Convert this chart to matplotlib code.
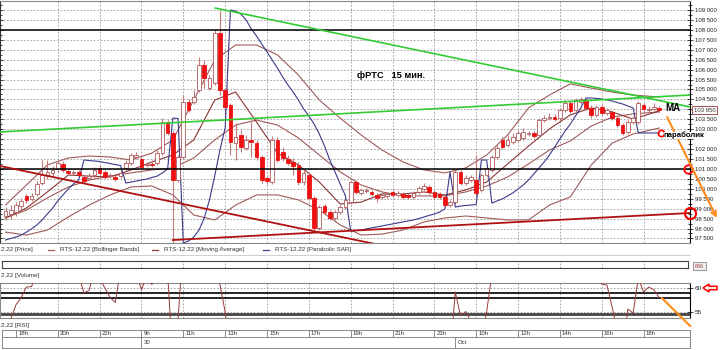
import matplotlib
matplotlib.use("Agg")
import matplotlib.pyplot as plt
from matplotlib.lines import Line2D
from matplotlib.patches import Polygon, Rectangle
from matplotlib.ticker import MultipleLocator, FuncFormatter

plt.rcParams["font.family"] = ["Liberation Sans", "DejaVu Sans"]

# ---- data: RTS-12.22, 15 min bars, 29 Sep 17:30 .. 3 Oct 18:45 ----
opens = [
    98630, 98730, 98830, 99130, 99640, 99490, 99740, 100290, 100640, 100800,
    101000, 101250, 100900, 100800, 100850, 100590, 100540, 100690, 101050, 100850,
    100640, 100590, 100640, 101050, 101300, 101600, 101500, 101200, 101250, 101300,
    101800, 103360, 102810, 100440, 101600, 104370, 104370, 104970, 106230, 105070,
    105330, 107840, 104970, 104220, 102310, 102710, 102050, 102460, 102310, 101600,
    100540, 100340, 102460, 101850, 101500, 101350, 101200, 100340, 100690, 99540,
    98030, 99130, 98830, 98530, 98830, 99080, 99330, 100340, 99790, 99890,
    99840, 99690, 99590, 99640, 99840, 99690, 99740, 99690, 99590, 99840,
    99990, 100090, 99840, 99740, 99590, 99180, 99330, 100850, 100290, 100440,
    100440, 99940, 100690, 100950, 101600, 102460, 102200, 102360, 102460, 102560,
    102760, 102810, 102710, 103460, 103560, 103610, 103560, 103970, 104320, 103970,
    104370, 104420, 104070, 103720, 104120, 103820, 103870, 103560, 103210, 102860,
    103360, 103360, 104220, 103970, 104020, 104070]
closes = [
    98880, 98930, 99180, 99390, 99440, 99640, 100240, 100690, 100850, 100950,
    101300, 100950, 100800, 100850, 100690, 100390, 100640, 100950, 100800, 100590,
    100690, 100490, 100800, 101300, 101700, 101700, 101100, 101250, 101200, 101800,
    103360, 102810, 100440, 101600, 104370, 103970, 104620, 106230, 105580, 105580,
    107840, 104970, 104120, 102360, 102610, 102100, 102460, 102360, 101600, 100440,
    100390, 102460, 101450, 101550, 101300, 101150, 100340, 100800, 99540, 98030,
    99080, 98830, 98530, 98830, 99080, 99440, 100340, 99840, 99940, 99940,
    99740, 99540, 99690, 99740, 99690, 99790, 99590, 99590, 99790, 100040,
    100140, 99840, 99590, 99590, 99180, 99330, 100850, 100290, 100540, 100590,
    99790, 100690, 101050, 101600, 102050, 102100, 102460, 102610, 102810, 102860,
    102810, 102660, 103460, 103560, 103610, 103510, 103970, 104320, 103920, 104470,
    104520, 104070, 103720, 104120, 103820, 103970, 103560, 103210, 102810, 103360,
    103560, 104320, 104020, 104020, 104120, 103950]
highs = [
    99080, 99180, 99330, 99540, 99740, 99790, 100390, 101450, 101450, 101150,
    101450, 101400, 101050, 100950, 100950, 100690, 100800, 101100, 101200, 100950,
    100800, 100690, 100950, 101450, 101800, 101850, 101600, 101350, 101450, 101950,
    103560, 103460, 102960, 101700, 104720, 104520, 104970, 106640, 106480, 105730,
    107990, 109000, 105070, 104320, 103310, 102960, 102710, 103460, 102460, 101700,
    100690, 102660, 102610, 102100, 101700, 101550, 101350, 100950, 100850, 99640,
    99180, 99230, 98930, 98930, 99180, 99540, 100440, 100440, 100040, 100040,
    99940, 99790, 99790, 99840, 99940, 99890, 99840, 99790, 99890, 100140,
    100290, 100190, 99940, 99840, 99690, 99440, 100950, 100950, 100690, 100690,
    101700, 100800, 101200, 101700, 102200, 102610, 102710, 102810, 102960, 103060,
    102910, 102910, 103560, 103720, 103820, 103770, 104070, 104470, 104420, 104570,
    104620, 104570, 104220, 104220, 104270, 104070, 103970, 103660, 103310, 103460,
    103660, 104420, 104320, 104170, 104320, 104170]
lows = [
    98430, 98480, 98630, 98980, 99290, 99390, 99640, 100190, 100490, 100640,
    100850, 100850, 100690, 100690, 100590, 100290, 100440, 100540, 100690, 100490,
    100540, 100390, 100540, 100950, 101200, 101500, 101000, 101100, 101100, 101200,
    101700, 102710, 97270, 100340, 101500, 103870, 104270, 104870, 105070, 104970,
    105230, 104720, 103460, 101700, 101450, 101850, 101950, 101600, 101450, 100290,
    100240, 100240, 101350, 101400, 101200, 100690, 100190, 100190, 99440, 97880,
    97930, 98730, 98430, 98430, 98730, 98980, 99230, 99740, 99690, 99790,
    99640, 99330, 99490, 99540, 99590, 99590, 99490, 99490, 99490, 99740,
    99890, 99740, 99490, 99490, 99080, 99080, 99230, 100190, 100190, 100340,
    99590, 99840, 100590, 100850, 101500, 102000, 102100, 102260, 102360, 102460,
    102660, 102560, 102610, 103360, 103460, 103410, 103460, 103870, 103820, 103870,
    104270, 103970, 103560, 103610, 103660, 103720, 103460, 103110, 102710, 102760,
    103260, 103260, 103920, 103870, 103920, 103870]

# indicator readings (every 4th bar)
ind_idx = [0, 4, 8, 12, 16, 20, 24, 28, 32, 36, 40, 44, 48, 52, 56, 60,
           64, 68, 72, 76, 80, 84, 88, 92, 96, 100, 104, 108, 112, 116, 120, 125]
bb_upper = [99180, 100190, 101200, 101550, 101650, 101600, 101450, 101800, 102460, 104470,
            106480, 107240, 107240, 106740, 105730, 104470, 103560, 102710, 101950, 101350,
            100950, 100800, 101050, 101700, 102710, 104070, 104720, 105280, 105070, 104870,
            104720, 104620]
bb_middle = [98530, 98930, 99540, 100090, 100440, 100640, 100800, 100950, 101050, 101550,
             102460, 103210, 103460, 103210, 102560, 101700, 100850, 100190, 99840, 99640,
             99640, 99640, 99840, 100140, 100590, 101250, 101950, 102410, 103160, 103610,
             103770, 103870]
bb_lower = [97820, 97670, 97920, 98580, 99180, 99690, 100090, 100140, 99690, 98680,
            98430, 99180, 99690, 99690, 99440, 98930, 98180, 97670, 97720, 97920,
            98330, 98530, 98630, 98530, 98430, 98430, 99180, 99590, 101200, 102300,
            102760, 103060]
ma_vals = [98530, 99030, 99840, 100690, 100640, 100590, 100950, 101350, 101700, 102460,
           104470, 104870, 103360, 101800, 101200, 100340, 99230, 99330, 99740, 99740,
           99840, 99690, 99940, 100340, 101250, 102150, 103010, 103720, 104070, 103870,
           103510, 103920]
sar = [
    97420, 97500, 97570, 97670, 97820, 97980, 98180, 98430, 98730, 99030,
    99390, 99690, 99990, 100240, 100440, 101450, 101420, 101400, 101370, 101320,
    101270, 101220, 101170, 100290, 100340, 100390, 100440, 100490, 100570, 100640,
    100800, 101000, 103560, 103540, 97270, 97370, 97570, 97920, 98530, 99440,
    100640, 101950, 103060, 109000, 108950, 108800, 108500, 108050, 107690, 107290,
    106890, 106480, 106080, 105630, 105230, 104870, 104470, 104020, 103670, 103260,
    102760, 102150, 101450, 100850, 100240, 99640, 97870, 97900, 97920, 97980,
    98030, 98080, 98130, 98180, 98230, 98280, 98330, 98380, 98430, 98500,
    98580, 98660, 98730, 98830, 98980, 100850, 99080, 99130, 99160, 99180,
    99210, 101450, 101450, 99280, 99390, 99490, 99640, 99790, 99990, 100190,
    100440, 100740, 101050, 101350, 101700, 102100, 102510, 102910, 103260, 103670,
    104070, 104570, 104570, 104550, 104520, 104470, 104420, 104340, 104270, 104170,
    104070, 102810, 102810, 102810, 102810, 102810]
rsi = [
    48, 53.5, 56.5, 58, 60.2, 60.3, 64, 67, 67, 66,
    68, 64, 63, 63, 62.5, 59, 59.5, 64, 62, 60,
    58, 57, 64, 67, 70, 63, 59.6, 62.5, 60.7, 65,
    75, 63, 45, 53.5, 70, 65, 67, 72, 68, 69,
    68, 60.7, 55, 47, 49, 46, 49, 48, 44, 38,
    37, 48, 42, 43, 42, 41, 37, 41, 35, 28,
    38, 36, 33, 37, 40, 43, 50, 47, 48, 48,
    47, 46, 47, 48, 47, 48, 47, 47, 48, 50,
    51, 49, 47, 47, 44, 46, 59.2, 54.2, 55.1, 53,
    48, 50, 55, 63, 67, 64, 66, 67, 69, 70,
    69, 67, 73, 74, 74, 73, 75, 77, 71, 74,
    74, 66, 62, 65, 60.8, 60.6, 56, 51, 47, 55.6,
    54.8, 62, 59.2, 60.2, 59.6, 58]
rsi_levels = [59.0, 57.85]
rsi_floor = 54.6

tick_idx = [2, 10, 18, 26, 34, 42, 50, 58, 66, 74, 82, 90, 98, 106, 114, 122]
tick_labels = ["18h", "20h", "22h", "9h", "11h", "13h", "15h", "17h",
               "19h", "21h", "23h", "10h", "12h", "14h", "16h", "18h"]
day_idx = [26, 86]
day_labels = ["30", "Oct"]

# hand-drawn lines (bar index, price)
green_top_x, green_top_y = [40.1, 130.9], [109100, 104120]
green_low_x, green_low_y = [-1.1, 130.9], [102860, 104720]
red_top_x, red_top_y = [-1.1, 71.6], [101150, 97170]
red_low_x, red_low_y = [32.0, 130.9], [97420, 98780]
levels = [108000, 101000]
forecast_x, forecast_y = [126.5, 136.0], [103610, 98530]
last_price = 103950
hidden_label = 102500   # covered by the "параболик" note

# ---- layout ----
W, H = 720, 350
X0, DX = 5.5, 5.23

def rect(x0, y0, x1, y1):
    return [x0 / W, 1 - y1 / H, (x1 - x0) / W, (y1 - y0) / H]

def xlim_px(x0, x1):
    return ((x0 - X0) / DX, (x1 - X0) / DX)

def fx(x):
    return x / W

def fy(y):
    return 1 - y / H

def price_fmt(v, pos):
    if v == hidden_label:
        return ""
    return f"{v:,.0f}".replace(",", " ")

WICK = "#c47c7c"
BULL_EDGE = "#b05a5a"
BEAR = "#ee1111"
BB = "#a05a5a"
MA = "#8a3434"
SARC = "#3a3a8c"
GREEN = "#33cc33"
REDT = "#b01010"
ORANGE = "#ff8c1a"
GRID = "#9a9a9a"
TXT = "#333333"
dash = (0, (2, 2))

fig = plt.figure(figsize=(W / 100, H / 100), dpi=100)
fig.patch.set_facecolor("white")

# ---- price panel ----
ax = fig.add_axes(rect(0, 1, 690, 243))
ax.set_xlim(*xlim_px(0, 690))
ax.set_ylim(97270, 109455)
for t in tick_idx[1:]:
    ax.axvline(t, color=GRID, lw=0.6, ls=dash, zorder=0.5)
ax.set_yticks(range(97500, 109001, 500))
ax.yaxis.set_minor_locator(MultipleLocator(250))
ax.grid(axis="y", which="major", color=GRID, lw=0.6, ls=dash, zorder=0.5)
ax.set_xticks([])
ax.yaxis.tick_right()
ax.yaxis.set_major_formatter(FuncFormatter(price_fmt))
ax.tick_params(axis="y", which="both", left=True, right=True, labelleft=False,
               labelright=True, direction="inout", width=0.6, colors="#222222",
               labelsize=4.3, pad=1.5)
ax.tick_params(axis="y", which="major", length=4)
ax.tick_params(axis="y", which="minor", length=2.5)
for s in ("top", "bottom"):
    ax.spines[s].set_color("#888888")
ax.spines["left"].set_color("#333333")
ax.spines["right"].set_color("#000000")

n = len(opens)
xs = list(range(n))
ax.vlines(xs, lows, highs, color=WICK, lw=0.8, zorder=2)
bull = [i for i in xs if closes[i] >= opens[i]]
bear = [i for i in xs if closes[i] < opens[i]]
ax.bar(bull, [max(closes[i] - opens[i], 30) for i in bull],
       bottom=[opens[i] for i in bull], width=0.7, facecolor="white",
       edgecolor=BULL_EDGE, lw=0.6, zorder=3)
ax.bar(bear, [max(opens[i] - closes[i], 30) for i in bear],
       bottom=[closes[i] for i in bear], width=0.7, facecolor=BEAR,
       edgecolor=BEAR, lw=0.6, zorder=3)

ax.plot(ind_idx, bb_upper, color=BB, lw=0.8, zorder=1.8)
ax.plot(ind_idx, bb_middle, color=BB, lw=0.8, zorder=1.8)
ax.plot(ind_idx, bb_lower, color=BB, lw=0.8, zorder=1.8)
ax.plot(ind_idx, ma_vals, color=MA, lw=0.8, zorder=1.9)
ax.plot(xs, sar, color=SARC, lw=0.8, zorder=2.2)

for lv in levels:
    ax.axhline(lv, color="black", lw=1.1, zorder=4)
ax.plot(green_top_x, green_top_y, color=GREEN, lw=1.2, zorder=4)
ax.plot(green_low_x, green_low_y, color=GREEN, lw=1.2, zorder=4)
ax.plot(red_top_x, red_top_y, color=REDT, lw=1.3, zorder=4)
ax.plot(red_low_x, red_low_y, color=REDT, lw=1.3, zorder=4)

ax.plot([130.5], [levels[1]], "o", ms=6, mfc="none", mec="red", mew=1.3, clip_on=False, zorder=6)
ax.plot([red_low_x[1]], [red_low_y[1]], "o", ms=8, mfc="none", mec="red", mew=1.5, clip_on=False, zorder=6)
ax.plot([125.3], [sar[-1]], "o", ms=4.5, mfc="none", mec="red", mew=1.2, clip_on=False, zorder=6)
ax.annotate("", xy=(forecast_x[1], forecast_y[1]), xytext=(forecast_x[0], forecast_y[0]),
            arrowprops=dict(arrowstyle="->", color=ORANGE, lw=1.5, shrinkA=0, shrinkB=0,
                            mutation_scale=9),
            annotation_clip=False, zorder=7)
ax.text(126.1, 104070, "MA", fontsize=7, fontweight="bold", va="center", ha="left",
        color="black", zorder=8, clip_on=False)
ax.text(125.9, sar[-1] - 120, "параболик", fontsize=5.6, fontweight="bold", va="center",
        ha="left", color="black", zorder=8, clip_on=False,
        bbox=dict(boxstyle="square,pad=0.0", fc="white", ec="none"))
ax.text(1.0055, last_price, f"{last_price:,}".replace(",", " "), transform=ax.get_yaxis_transform(),
        fontsize=4.3, va="center", ha="left", color="#333333", zorder=9, clip_on=False,
        bbox=dict(boxstyle="square,pad=0.25", fc="white", ec="#a05050", lw=0.7))
fig.text(fx(357), fy(75), "фРТС   15 мин.", fontsize=6.7, fontweight="bold",
         va="center", ha="left", color="black")

# legend row
fig.text(fx(1), fy(250), "2.22 [Price]", fontsize=4.5, color=TXT, va="center")
for x0, txt, col in [(48, "RTS-12.22 [Bollinger Bands]", BB),
                     (152, "RTS-12.22 [Moving Average]", MA),
                     (263, "RTS-12.22 [Parabolic SAR]", SARC)]:
    fig.add_artist(Line2D([fx(x0), fx(x0 + 6)], [fy(250), fy(250)], color=col, lw=0.9))
    fig.text(fx(x0 + 12), fy(250), txt, fontsize=4.5, color=TXT, va="center")
fig.add_artist(Line2D([0, fx(690)], [fy(255), fy(255)], color="#c8c8c8", lw=0.6))

# ---- volume strip ----
vax = fig.add_axes(rect(2, 261, 688, 268))
vax.set_xlim(*xlim_px(2, 688))
vax.set_ylim(0, 1)
vax.set_xticks([])
vax.set_yticks([])
for t in tick_idx[1:]:
    vax.axvline(t, color=GRID, lw=0.6, ls=dash)
for s in vax.spines.values():
    s.set_color("#444444")
    s.set_linewidth(0.8)
fig.add_artist(Rectangle((fx(693), fy(270)), fx(13), 8 / H, fc="#eeeeee", ec="#888888", lw=0.6))
fig.text(fx(699.5), fy(266), "666", fontsize=4, color="#a04040", ha="center", va="center")
fig.text(fx(1), fy(276), "2.22 [Volume]", fontsize=4.5, color=TXT, va="center")

# ---- RSI panel ----
rax = fig.add_axes(rect(0, 283, 690, 318))
rax.set_xlim(*xlim_px(0, 690))
rax.set_ylim(53.75, 61.04)
for t in tick_idx[1:]:
    rax.axvline(t, color=GRID, lw=0.6, ls=dash, zorder=0.5)
rax.set_yticks([55, 60])
rax.grid(axis="y", color=GRID, lw=0.6, ls=dash, zorder=0.5)
rax.set_xticks([])
rax.yaxis.tick_right()
rax.tick_params(axis="y", direction="inout", length=4, width=0.6, labelsize=4.6,
                colors="#222222", pad=1.5)
for lv in rsi_levels:
    rax.axhline(lv, color="black", lw=1.2, zorder=2)
rax.axhline(rsi_floor, color="#444444", lw=2, zorder=2)
rax.plot(xs, rsi, color="#9a3c3c", lw=0.7, zorder=3)
rax.plot([125.5, 130.9], [57.9, 52.1], color=ORANGE, lw=1.5, clip_on=False, zorder=5)
for s in ("top", "bottom", "left"):
    rax.spines[s].set_color("#888888")
arrow = [(703, 288), (709, 284), (709, 286.3), (717, 286.3), (717, 289.7), (709, 289.7), (709, 292)]
fig.add_artist(Polygon([(fx(a), fy(b)) for a, b in arrow], closed=True, fc="white",
                       ec="red", lw=1.1))
fig.text(fx(1), fy(325), "2.22 [RSI]", fontsize=4.5, color=TXT, va="center")

# ---- time axis ----
tax = fig.add_axes(rect(2, 330, 690, 348))
tax.set_xlim(*xlim_px(2, 690))
tax.set_ylim(0, 18)
tax.set_xticks([])
tax.set_yticks([])
tax.axhline(11, color="#777777", lw=0.6)
tax.vlines(tick_idx, 11, 18, color="#777777", lw=0.6)
for t, lab in zip(tick_idx, tick_labels):
    tax.text(t + 0.4, 14.5, lab, fontsize=4.3, color=TXT, va="center", ha="left")
tax.vlines(day_idx, 0, 11, color="#777777", lw=0.6)
for d, lab in zip(day_idx, day_labels):
    tax.text(d + 0.4, 5.5, lab, fontsize=4.3, color=TXT, va="center", ha="left")
for s in tax.spines.values():
    s.set_color("#777777")
    s.set_linewidth(0.6)

fig.savefig("out.png", dpi=100)
